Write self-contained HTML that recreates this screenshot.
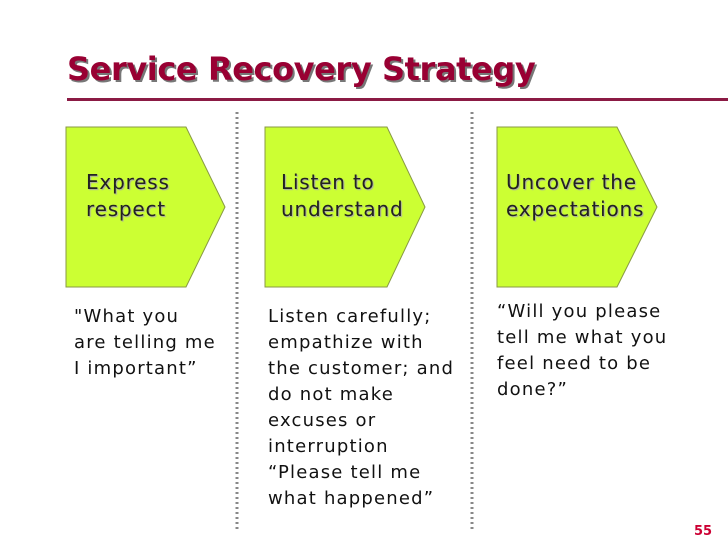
<!DOCTYPE html>
<html><head><style>
body{margin:0;width:728px;height:546px;background:#fff;position:relative;overflow:hidden;font-family:"DejaVu Sans","Liberation Sans",sans-serif;}
.t{position:absolute;white-space:nowrap;}
.title{left:67px;top:50px;font-size:32px;font-weight:bold;color:#990033;text-shadow:2px 2px 0 #777;letter-spacing:-0.4px;}
.lab{font-size:20px;letter-spacing:0.8px;color:#222;line-height:27px;text-shadow:1px 1px 1px #aaa;}
.body{font-size:18px;letter-spacing:1.2px;color:#111;line-height:26px;}
</style></head><body>
<div class="t title">Service Recovery Strategy</div>
<div style="position:absolute;left:67px;top:98px;width:661px;height:3px;background:#8b1a44"></div>
<svg width="728" height="546" style="position:absolute;left:0;top:0">
<g fill="#ccff33" stroke="#889944" stroke-width="1">
<polygon points="66,127 186,127 225,207 186,287 66,287"/>
<polygon points="265,127 387,127 425,207 387,287 265,287"/>
<polygon points="497,127 617,127 657,207 617,287 497,287"/>
</g>
<g stroke="#888" stroke-width="3" stroke-dasharray="2,3">
<line x1="237" y1="112" x2="237" y2="530"/>
<line x1="472" y1="112" x2="472" y2="530"/>
</g>
</svg>
<div class="t lab" style="left:86px;top:169px">Express<br>respect</div>
<div class="t lab" style="left:281px;top:169px">Listen to<br>understand</div>
<div class="t lab" style="left:506px;top:169px">Uncover the<br>expectations</div>
<div class="t body" style="left:74px;top:304px">"What you<br>are telling me<br>I important”</div>
<div class="t body" style="left:268px;top:304px">Listen carefully;<br>empathize with<br>the customer; and<br>do not make<br>excuses or<br>interruption<br>“Please tell me<br>what happened”</div>
<div class="t body" style="left:497px;top:299px">“Will you please<br>tell me what you<br>feel need to be<br>done?”</div>
<div class="t" style="left:694px;top:524px;font-size:13px;font-weight:bold;color:#cc0033">55</div>
</body></html>
